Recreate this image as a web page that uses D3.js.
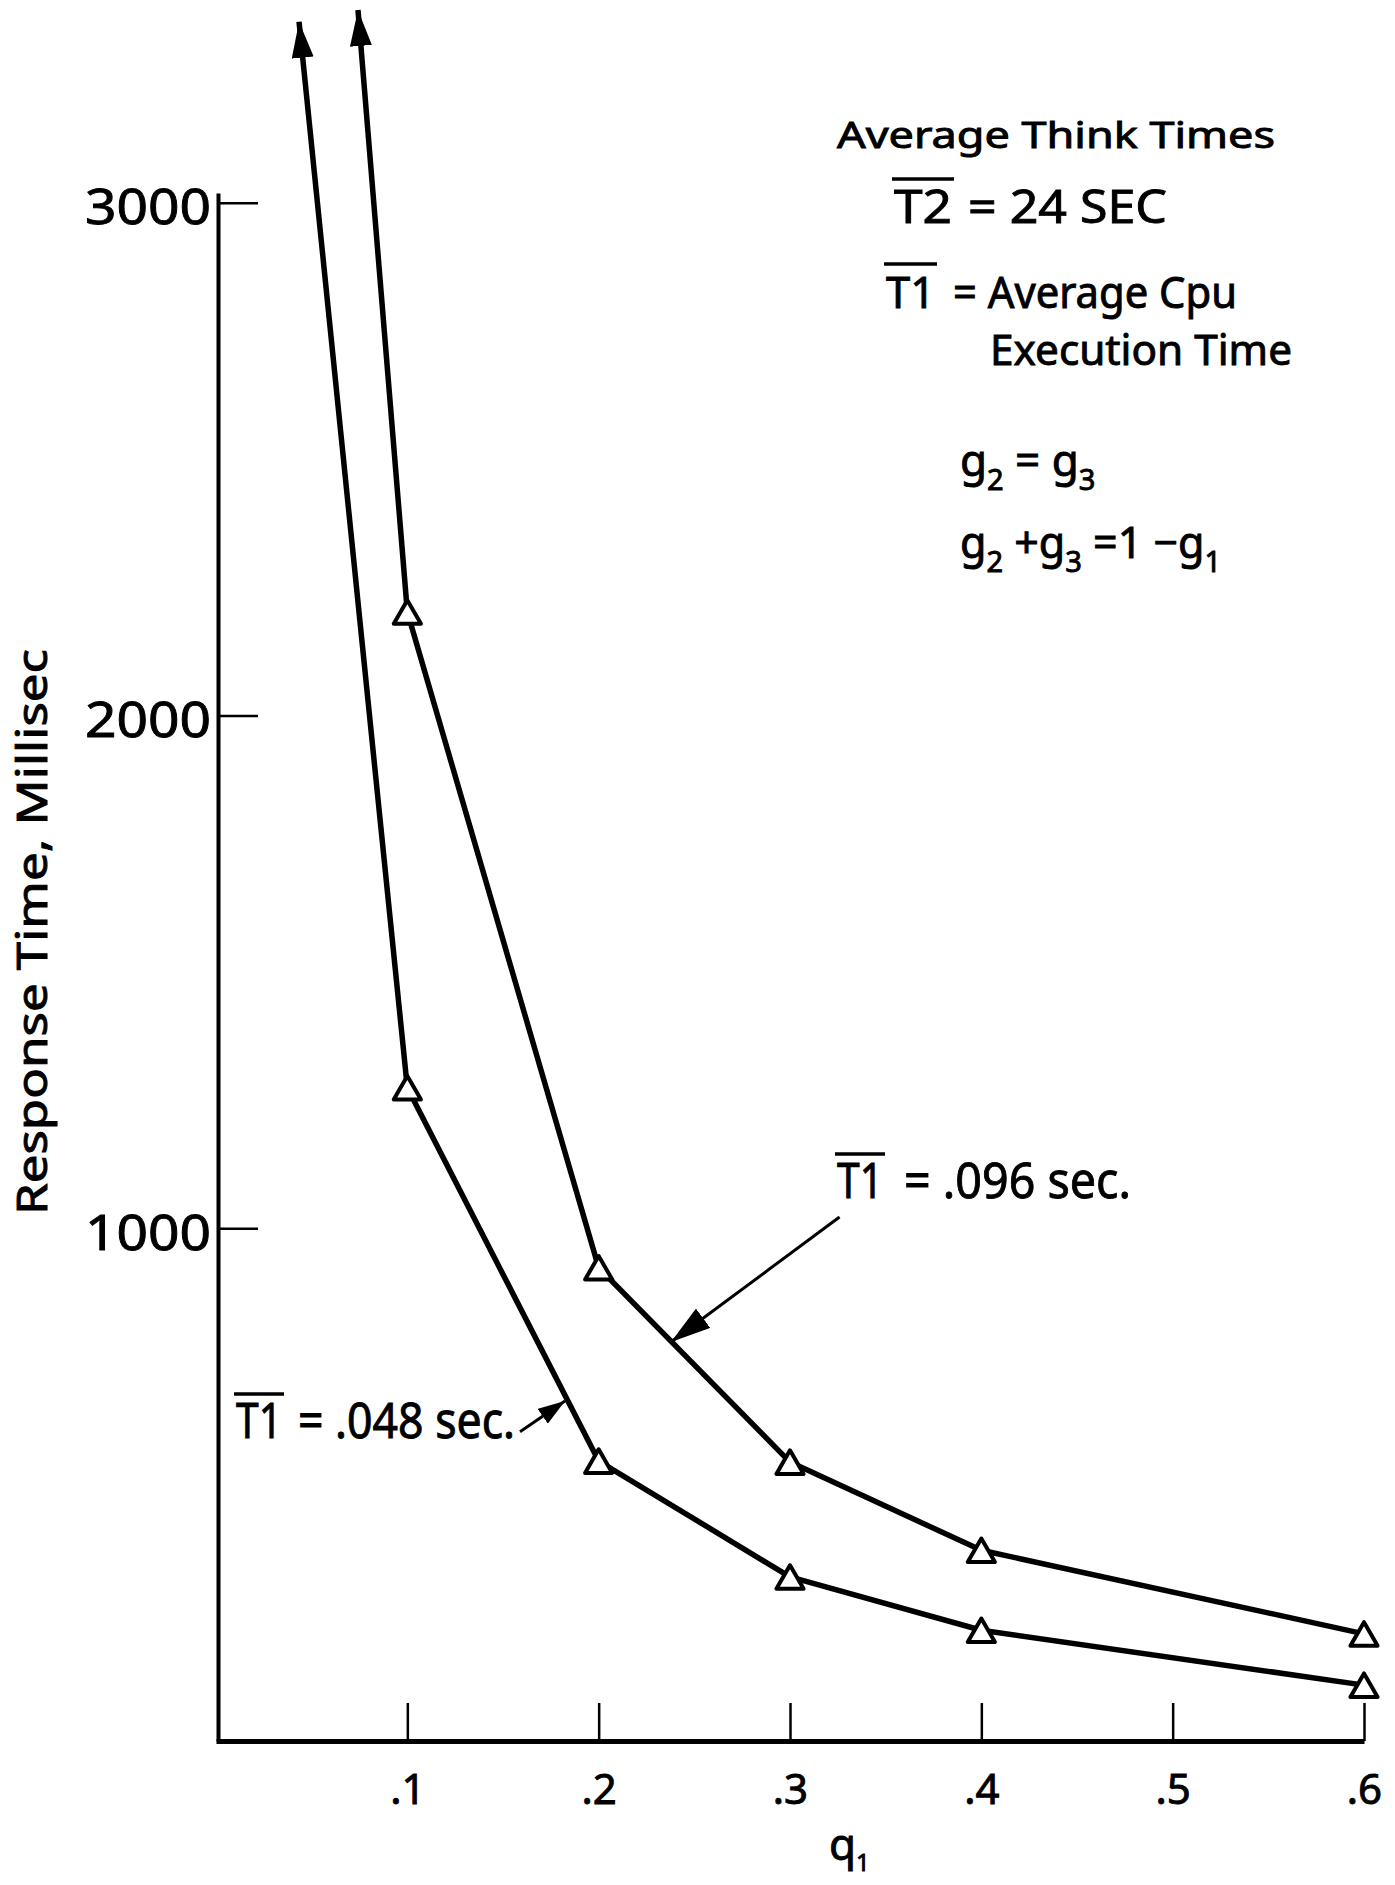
<!DOCTYPE html>
<html>
<head>
<meta charset="utf-8">
<script src="https://cdn.jsdelivr.net/npm/d3@7"></script>
<style>
  body { margin: 0; background: #fff; }
  svg { display: block; font-family: "Noto Sans", "DejaVu Sans", sans-serif; }
  svg text { fill: #000; stroke: #000; stroke-width: 0.9px; }
</style>
</head>
<body>
<script>
"use strict";

// q1 positions of the measured points (triangles)
const qValues = [0.1, 0.2, 0.3, 0.4, 0.6];
// response time in ms, T1 = .096 sec
const slowCpu = [2202, 923, 544, 372, 209];
// response time in ms, T1 = .048 sec
const fastCpu = [1274, 546, 320, 216, 109];
// where each curve runs off the top (arrow tips), [q1, ms]
const slowTip = [0.0742, 3376];
const fastTip = [0.0434, 3353];

const xTicks = [0.1, 0.2, 0.3, 0.4, 0.5, 0.6];
const yTicks = [1000, 2000, 3000];

// pointer arrows for the two curve labels, [from, to] in [q1, ms]
const slowPointer = [[0.3259, 1022], [0.2378, 778]];
const fastPointer = [[0.1589, 603], [0.1824, 663]];

(function(){
    let svg = null
    const measurements = {
        width: 1395,
        height: 1885
    }

    window.onload = function() {
        svg = d3.select("body").append("svg")
            .attr("width", measurements.width)
            .attr("height", measurements.height)

        svg.append("rect")
            .attr("width", measurements.width)
            .attr("height", measurements.height)
            .attr("fill", "#fff")

        const scaleX = d3.scaleLinear()
            .domain([0, 0.6])
            .range([216, 1364])

        // axis line runs a little above the 3000 tick
        const scaleY = d3.scaleLinear()
            .domain([0, 3019])
            .range([1741, 193])

        makeMarkers()
        drawAxes(scaleX, scaleY)
        plotData(scaleX, scaleY)
        makeLabels(scaleX, scaleY)
    }

    function makeMarkers() {
        const defs = svg.append("defs")
        const heads = [
            { id: "tip", w: 36, h: 22 },
            { id: "bigPointer", w: 40, h: 24 },
            { id: "smallPointer", w: 27, h: 18 }
        ]
        heads.forEach(function(m) {
            defs.append("marker")
                .attr("id", m.id)
                .attr("viewBox", "0 0 10 10")
                .attr("refX", 10)
                .attr("refY", 5)
                .attr("markerUnits", "userSpaceOnUse")
                .attr("markerWidth", m.w)
                .attr("markerHeight", m.h)
                .attr("orient", "auto-start-reverse")
                .attr("preserveAspectRatio", "none")
                .append("path")
                    .attr("d", "M0,0L10,5L0,10z")
                    .attr("fill", "#000")
        })
    }

    function drawAxes(scaleX, scaleY) {
        let xAxis = d3.axisBottom(scaleX)
            .tickValues(xTicks)
            .tickSizeInner(-38)
            .tickSizeOuter(0)
            .tickPadding(33)
            .tickFormat(d => d3.format(".1f")(d).replace(/^0/, ""))

        let yAxis = d3.axisLeft(scaleY)
            .tickValues(yTicks)
            .tickSizeInner(-40)
            .tickSizeOuter(0)
            .tickPadding(7)
            .tickFormat(d3.format("d"))

        const gx = svg.append("g")
            .attr("transform", "translate(0," + scaleY(0) + ")")
            .call(xAxis)
        gx.attr("font-family", null).attr("font-size", null)
        gx.select(".domain").attr("stroke-width", 5)
        gx.selectAll(".tick line").attr("stroke-width", 2.5)
        gx.selectAll(".tick text").attr("font-size", 42)

        const gy = svg.append("g")
            .attr("transform", "translate(" + (scaleX(0) + 2) + ",0)")
            .call(yAxis)
        gy.attr("font-family", null).attr("font-size", null)
        gy.select(".domain").attr("stroke-width", 4)
        gy.selectAll(".tick line").attr("stroke-width", 2.5)
        gy.selectAll(".tick text")
            .attr("font-size", 50)
            .attr("dy", "0.42em")
            .attr("textLength", 126)
            .attr("lengthAdjust", "spacingAndGlyphs")
    }

    function plotData(scaleX, scaleY) {
        const series = [
            { tip: slowTip, values: slowCpu },
            { tip: fastTip, values: fastCpu }
        ]

        const line = d3.line()
            .x(d => scaleX(d[0]))
            .y(d => scaleY(d[1]))

        const triangle = d3.symbol(d3.symbolTriangle, 320)

        series.forEach(function(s) {
            const points = qValues.map((q, i) => [q, s.values[i]])

            svg.append("path")
                .datum([s.tip].concat(points))
                .attr("d", line)
                .attr("fill", "none")
                .attr("stroke", "#000")
                .attr("stroke-width", 5.5)
                .attr("stroke-linejoin", "round")
                .attr("marker-start", "url(#tip)")

            // triangles sit with their box centred on the point
            svg.selectAll(null)
                .data(points)
                .enter()
                .append("path")
                    .attr("d", triangle)
                    .attr("transform", d => "translate(" + scaleX(d[0]) + "," + (scaleY(d[1]) + 4) + ")")
                    .attr("fill", "#fff")
                    .attr("stroke", "#000")
                    .attr("stroke-width", 4)
                    .attr("stroke-linejoin", "round")
        })

        // label pointers
        const pointers = [
            { pts: slowPointer, head: "bigPointer" },
            { pts: fastPointer, head: "smallPointer" }
        ]
        pointers.forEach(function(p) {
            svg.append("path")
                .datum(p.pts)
                .attr("d", line)
                .attr("fill", "none")
                .attr("stroke", "#000")
                .attr("stroke-width", 3)
                .attr("marker-end", "url(#" + p.head + ")")
        })
    }

    // a label with an overbar on its first symbol (T1, T2)
    function barLabel(x, y, size, sym, symW, rest, restX, restW) {
        const g = svg.append("g").attr("font-size", size)
        g.append("text")
            .attr("x", x)
            .attr("y", y)
            .attr("textLength", symW)
            .attr("lengthAdjust", "spacingAndGlyphs")
            .text(sym)
        g.append("line")
            .attr("x1", x - 2)
            .attr("x2", x + symW + 2)
            .attr("y1", y - 44)
            .attr("y2", y - 44)
            .attr("stroke", "#000")
            .attr("stroke-width", 3.5)
        g.append("text")
            .attr("x", restX)
            .attr("y", y)
            .attr("textLength", restW)
            .attr("lengthAdjust", "spacingAndGlyphs")
            .text(rest)
    }

    // text with subscripts, parts = [[text, isSub], ...]
    function subLabel(x, y, size, parts) {
        const t = svg.append("text")
            .attr("x", x)
            .attr("y", y)
            .attr("font-size", size)
        let down = false
        parts.forEach(function(p) {
            const span = t.append("tspan").text(p[0])
            if (p[1] && !down) { span.attr("dy", 14).attr("font-size", 29); down = true }
            else if (p[1]) { span.attr("font-size", 29) }
            else if (down) { span.attr("dy", -14); down = false }
        })
    }

    function makeLabels(scaleX, scaleY) {
        svg.append("text")
            .attr("transform", "translate(47,932)rotate(-90)")
            .attr("text-anchor", "middle")
            .attr("font-size", 42)
            .attr("textLength", 566)
            .attr("lengthAdjust", "spacingAndGlyphs")
            .text("Response Time, Millisec")

        const q = svg.append("text")
            .attr("x", 829)
            .attr("y", 1860)
            .attr("font-size", 44)
        q.append("tspan").text("q")
        q.append("tspan").attr("dy", 11).attr("font-size", 24).text("1")

        svg.append("text")
            .attr("x", 837)
            .attr("y", 148)
            .attr("font-size", 37)
            .attr("textLength", 438)
            .attr("lengthAdjust", "spacingAndGlyphs")
            .text("Average Think Times")

        barLabel(894, 223, 46, "T2", 58, "= 24  SEC", 968, 199)
        barLabel(886, 308, 43, "T1", 49, "= Average Cpu", 953, 284)

        svg.append("text")
            .attr("x", 990)
            .attr("y", 365)
            .attr("font-size", 42)
            .attr("textLength", 302)
            .attr("lengthAdjust", "spacingAndGlyphs")
            .text("Execution Time")

        subLabel(960, 476, 44, [["g", false], ["2", true], [" = g", false], ["3", true]])
        subLabel(960, 558, 43, [["g", false], ["2", true], [" +g", false], ["3", true],
            [" =1 \u2212g", false], ["1", true]])

        barLabel(837, 1198, 50, "T1", 46, "= .096 sec.", 904, 227)
        barLabel(236, 1438, 50, "T1", 46, "= .048 sec.", 298, 217)
    }

})()
</script>
</body>
</html>
